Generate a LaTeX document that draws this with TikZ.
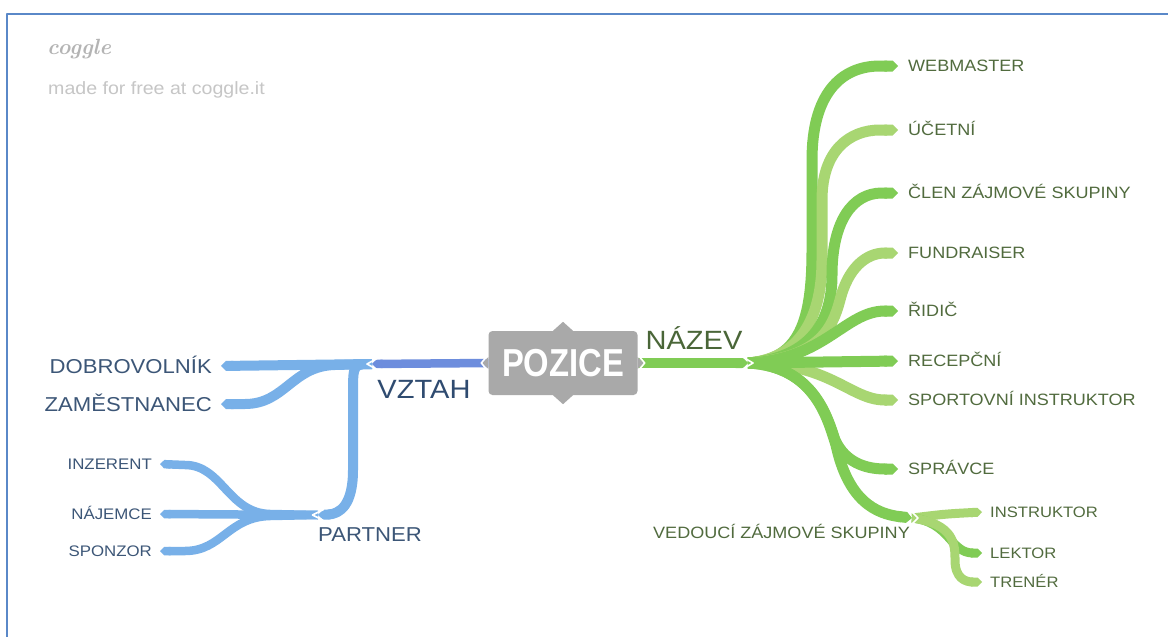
\documentclass[tikz,border=0pt]{standalone}
\usepackage{fontspec}
\usetikzlibrary{arrows.meta}

\newfontfamily\lblfont[FakeStretch=1.1]{Liberation Sans}
\newfontfamily\rootfont[FakeStretch=0.84]{Liberation Sans}

\definecolor{frame}{HTML}{5A88C8}
\definecolor{logogray}{HTML}{B4B4B4}
\definecolor{notegray}{HTML}{C6C6C6}
\definecolor{rootgray}{HTML}{A9A9A9}
\definecolor{vzline}{HTML}{6D8DDD}
\definecolor{lblue}{HTML}{78B0E8}
\definecolor{ltext}{HTML}{3C5677}
\definecolor{vztext}{HTML}{2F4B70}
\definecolor{gline}{HTML}{80CC55}
\definecolor{gpale}{HTML}{A8D672}
\definecolor{rtext}{HTML}{516B3E}
\definecolor{nztext}{HTML}{4A6638}

\begin{document}
\begin{tikzpicture}[x=1pt, y=-1pt, line join=round,
  rootbox/.style={rectangle, rounded corners=4pt, fill=rootgray, text=white,
    minimum width=149pt, minimum height=64pt, inner sep=0pt,
    font=\rootfont\bfseries\fontsize{39}{40}\selectfont},
  bigtxt/.style={inner sep=0pt, text height=18.9pt, text depth=0pt,
    font=\lblfont\fontsize{26.4}{28}\selectfont},
  llbl/.style={inner sep=0pt, anchor=east, text=ltext, text height=14.4pt, text depth=0pt,
    font=\lblfont\fontsize{20.1}{22}\selectfont},
  lsub/.style={inner sep=0pt, anchor=east, text=ltext, text height=11pt, text depth=0pt,
    font=\lblfont\fontsize{15.3}{17}\selectfont},
  rlbl/.style={inner sep=0pt, anchor=west, text=rtext, text height=11.7pt, text depth=0pt,
    font=\lblfont\fontsize{16.4}{18}\selectfont},
  rsub/.style={inner sep=0pt, anchor=west, text=rtext, text height=10.8pt, text depth=0pt,
    font=\lblfont\fontsize{15.1}{17}\selectfont},
  vzedge/.style={draw=vzline, line width=8.5pt, -{Triangle Cap}},
  ledge/.style={draw=lblue, line width=10pt, -{Triangle Cap}},
  lsedge/.style={draw=lblue, line width=8.5pt, -{Triangle Cap}},
  gedge/.style={draw=gline, line width=11pt, -{Triangle Cap}},
  pedge/.style={draw=gpale, line width=11pt, -{Triangle Cap}},
  gsedge/.style={draw=gline, line width=9pt, -{Triangle Cap}},
  psedge/.style={draw=gpale, line width=9pt, -{Triangle Cap}},
  chev/.style={draw=white, line width=1.6pt, line cap=round}
]
\useasboundingbox (0,0) rectangle (1168,637);
\fill[white] (0,0) rectangle (1168,637);

% frame along the top and left edges
\draw[frame, line width=2pt] (7,637) -- (7,13.5) -- (1168,13.5);

% watermark
\node[anchor=base west, inner sep=0pt, text=logogray,
  font=\bfseries\itshape\fontsize{22}{24}\selectfont] (logo) at (47,54) {coggle};
\node[anchor=base west, inner sep=0pt, text=notegray,
  font=\lblfont\fontsize{17.8}{20}\selectfont] (note) at (48,94) {made for free at coggle.it};

% ---------- centre ----------
\node[rootbox] (root) at (563,363) {POZICE};
\fill[rootgray] ([xshift=-10pt]root.north) -- ([yshift=9pt]root.north) -- ([xshift=10pt]root.north) -- cycle;
\fill[rootgray] ([xshift=-10pt]root.south) -- ([yshift=-9pt]root.south) -- ([xshift=10pt]root.south) -- cycle;

% ---------- labels ----------
\node[bigtxt, text=vztext] (vztah) at (424,389) {VZTAH};
\node[bigtxt, text=nztext] (nazev) at (694,340) {NÁZEV};

\node[llbl] (dob) at (212,366) {DOBROVOLNÍK};
\node[llbl] (zam) at (212,404) {ZAMĚSTNANEC};
\node[llbl, anchor=center] (partner) at (370,534) {PARTNER};
\node[lsub] (inz) at (152,464) {INZERENT};
\node[lsub] (naj) at (152,514) {NÁJEMCE};
\node[lsub] (spo) at (152,551) {SPONZOR};

\node[rlbl] (web) at (908,66) {WEBMASTER};
\node[rlbl] (uce) at (908,130) {ÚČETNÍ};
\node[rlbl] (cle) at (908,193) {ČLEN ZÁJMOVÉ SKUPINY};
\node[rlbl] (fun) at (908,253) {FUNDRAISER};
\node[rlbl] (rid) at (908,311) {ŘIDIČ};
\node[rlbl] (rec) at (908,361) {RECEPČNÍ};
\node[rlbl] (spi) at (908,400) {SPORTOVNÍ INSTRUKTOR};
\node[rlbl] (spr) at (908,469) {SPRÁVCE};
\node[rlbl, anchor=east] (ved) at (910,533) {VEDOUCÍ ZÁJMOVÉ SKUPINY};
\node[rsub] (ins) at (990,512) {INSTRUKTOR};
\node[rsub] (lek) at (990,553) {LEKTOR};
\node[rsub] (tre) at (990,582) {TRENÉR};

% ---------- junctions ----------
\coordinate (jL) at (372,364);
\coordinate (pj) at (318,515);
\coordinate (jR) at (748,363);
\coordinate (vj) at (912,518);

% ---------- left branches ----------
\draw[lsedge] (pj) -- (270,514) .. controls (228,513) and (222,465) .. (185,465) -- ([xshift=8pt]inz.east);
\draw[lsedge] (pj) -- ([xshift=8pt]naj.east);
\draw[lsedge] (pj) -- (270,516) .. controls (228,517) and (222,551) .. (185,551) -- ([xshift=8pt]spo.east);

\draw[ledge] (jL) -- ([xshift=9pt]dob.east);
\draw[ledge] (jL) -- (335,365) .. controls (292,366) and (285,404) .. (245,404) -- ([xshift=9pt]zam.east);
\draw[ledge] (jL) .. controls (353,364) .. (353,395) -- (353,470)
  .. controls (353,505) and (340,514) .. (pj);
\draw[chev] (323.5,509.5) -- (312.5,515) -- (323.5,520.5);

\draw[vzedge] (root.west) -- (jL);
\draw[chev] (377,358.5) -- (367,364) -- (377,369.5);

% ---------- right branches ----------
\draw[gedge] (jR) .. controls (800,360) and (812,320) .. (812,250) -- (812,160)
  .. controls (812,95) and (840,66) .. (880,66) -- ([xshift=-10pt]web.west);
\draw[pedge] (jR) .. controls (805,358) and (822,310) .. (822,260) -- (822,200)
  .. controls (822,150) and (850,130) .. (880,130) -- ([xshift=-10pt]uce.west);
\draw[gedge] (jR) .. controls (812,358) and (832,320) .. (832,275)
  .. controls (832,222) and (852,193) .. (882,193) -- ([xshift=-10pt]cle.west);
\draw[pedge] (jR) .. controls (818,358) and (832,330) .. (840,300)
  .. controls (848,268) and (866,253) .. (885,253) -- ([xshift=-10pt]fun.west);
\draw[gedge] (jR) .. controls (825,360) and (845,311) .. (885,311) -- ([xshift=-10pt]rid.west);
\draw[pedge] (jR) .. controls (830,362) and (850,400) .. (885,400) -- ([xshift=-10pt]spi.west);
\draw[gedge] (jR) -- ([xshift=-10pt]rec.west);
\draw[gedge] (jR) .. controls (815,366) and (828,420) .. (835,440)
  .. controls (845,462) and (865,469) .. (885,469) -- ([xshift=-10pt]spr.west);

\draw[psedge] (vj) .. controls (945,514) .. ([xshift=-8pt]ins.west);
\draw[gsedge] (vj) .. controls (950,522) and (950,553) .. ([xshift=-8pt]lek.west);
\draw[psedge] (vj) .. controls (955,524) and (955,545) .. (955,560)
  .. controls (955,578) and (965,582) .. ([xshift=-8pt]tre.west);
\draw[gedge] (jR) .. controls (815,366) and (828,420) .. (836,445)
  .. controls (848,500) and (875,514) .. (vj);
\draw[chev] (911,511) -- (918,518) -- (911,525);

\draw[gedge, line width=10pt] (root.east) -- (jR);
\draw[chev] (742,356.5) -- (753,363) -- (742,369.5);

% notches on the sides of the centre box
\fill[rootgray] ([yshift=6pt]root.west) -- ([xshift=-6pt]root.west) -- ([yshift=-6pt]root.west) -- cycle;
\fill[rootgray] ([yshift=6pt]root.east) -- ([xshift=6pt]root.east) -- ([yshift=-6pt]root.east) -- cycle;
\draw[chev] ([xshift=-1pt,yshift=7pt]root.west) -- ([xshift=-7pt]root.west) -- ([xshift=-1pt,yshift=-7pt]root.west);
\draw[chev] ([xshift=1pt,yshift=7pt]root.east) -- ([xshift=7pt]root.east) -- ([xshift=1pt,yshift=-7pt]root.east);
\end{tikzpicture}
\end{document}
